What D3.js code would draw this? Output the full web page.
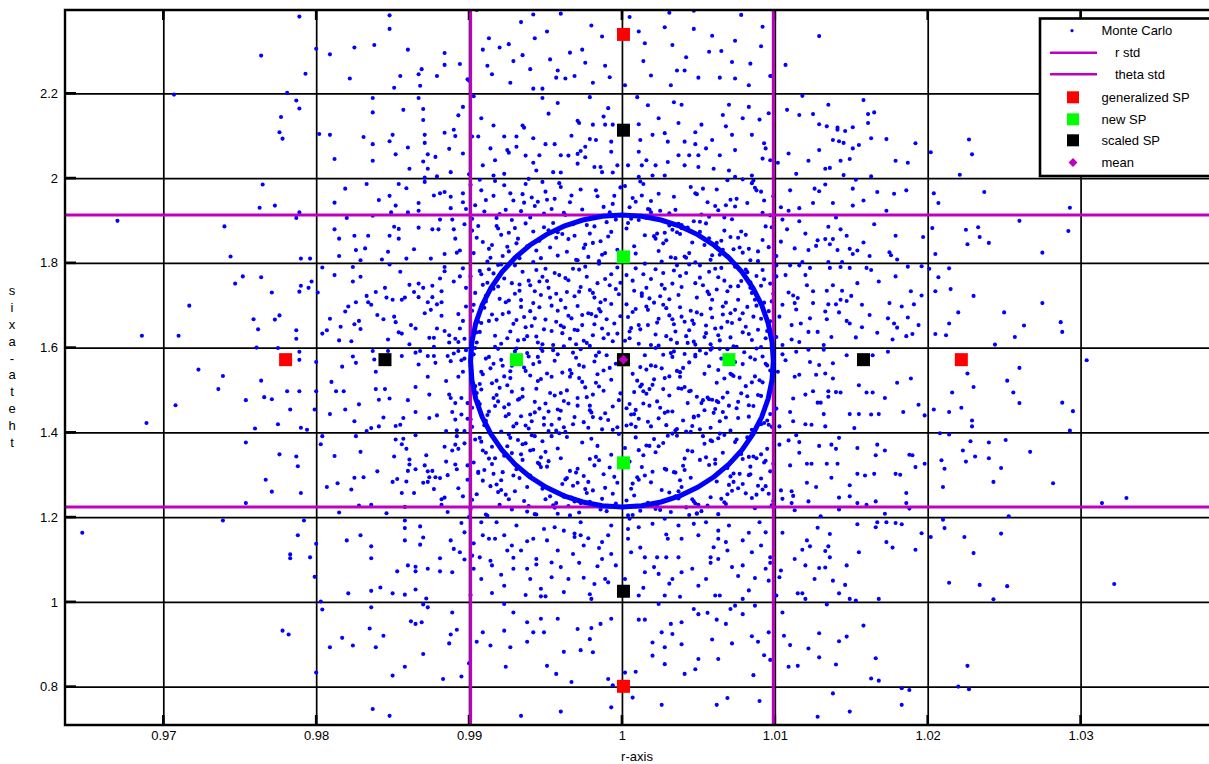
<!DOCTYPE html>
<html>
<head>
<meta charset="utf-8">
<script src="https://cdn.jsdelivr.net/npm/d3@7"></script>
<style>
  body { margin: 0; background: #fff; }
  svg { display: block; }
  text { font-family: "Liberation Sans", Arial, Helvetica, sans-serif; fill: #000; }
</style>
</head>
<body>
<svg id="chart" width="1209" height="764"></svg>
<script>
// ---- axis settings ----
const rTicks = [0.97, 0.98, 0.99, 1, 1.01, 1.02, 1.03];
const thetaTicks = [0.8, 1, 1.2, 1.4, 1.6, 1.8, 2, 2.2];
const rDomain = [0.96357, 1.0384];
const thetaDomain = [0.7094, 2.3966];
const xLabel = "r-axis";
const yLabel = "theta-axis";

// ---- statistics ----
const meanPoint = [1.0001, 1.5715];
const rStd = [0.9901, 1.0099];
const thetaStd = [1.2240, 1.9127];

// ---- sigma points ----
const generalizedSP = [[1.0001, 2.339], [1.0001, 0.8007], [0.9780, 1.5715], [1.0222, 1.5715], [1.0001, 1.5715]];
const newSP = [[1.0001, 1.814], [1.0001, 1.328], [0.9931, 1.5715], [1.0070, 1.5715], [1.0001, 1.5715]];
const scaledSP = [[1.0001, 2.113], [1.0001, 1.025], [0.9845, 1.5715], [1.0158, 1.5715], [1.0001, 1.5715]];

// ---- legend entries ----
const legendItems = ["Monte Carlo", "r std", "theta std", "generalized SP", "new SP", "scaled SP", "mean"];

// ---- Monte Carlo samples [r, theta] ----
const monteCarlo = [
// r < 0.98
[.9670,1.899],[.9686,1.628],[.9647,1.163],[.9689,1.422],
[.9789,2.381],[.9764,2.289],[.9793,2.246],[.9800,2.305],[.9707,2.197],[.9781,2.201],[.9787,2.183],[.9789,2.164],[.9777,2.144],[.9776,2.108],[.9778,2.093],[.9802,2.104],[.9765,1.985],[.9763,1.930],[.9773,1.935],[.9740,1.886],[.9787,1.906],[.9789,1.919],[.9744,1.815],[.9790,1.810],[.9796,1.810],[.9752,1.768],[.9764,1.766],[.9747,1.751],[.9790,1.746],[.9795,1.741],[.9797,1.756],[.9771,1.730],[.9789,1.732],[.9717,1.699],[.9776,1.676],[.9759,1.667],[.9773,1.666],[.9762,1.643],[.9787,1.641],[.9787,1.621],[.9710,1.628],[.9801,1.730],[.9761,1.600],[.9775,1.599],[.9789,1.590],[.9789,1.571],[.9800,1.566],[.9723,1.548],[.9739,1.533],[.9764,1.522],[.9736,1.502],[.9781,1.497],[.9789,1.497],[.9800,1.497],[.9754,1.476],[.9766,1.483],[.9771,1.478],[.9708,1.464],[.9783,1.454],[.9799,1.454],[.9775,1.419],[.9760,1.409],[.9790,1.411],[.9794,1.406],[.9754,1.376],[.9776,1.348],[.9787,1.343],[.9788,1.320],[.9767,1.288],[.9771,1.260],[.9790,1.257],[.9754,1.233],[.9739,1.192],[.9792,1.192],[.9788,1.157],[.9783,1.112],[.9783,1.103],[.9796,1.105],[.9799,1.059],[.9800,1.137],[.9778,0.932],[.9782,0.923],[.9800,0.833],
// 0.98 - 0.99
[.9848,2.384],[.9848,2.352],[.9809,2.292],[.9825,2.308],[.9838,2.314],[.9860,2.303],[.9884,2.295],[.9884,2.267],[.9894,2.269],[.9822,2.235],[.9855,2.241],[.9867,2.245],[.9869,2.257],[.9879,2.241],[.9868,2.218],[.9851,2.213],[.9900,2.230],
[.9837,2.189],[.9867,2.189],[.9870,2.163],[.9857,2.161],[.9896,2.168],[.9893,2.148],[.9870,2.137],[.9837,2.155],[.9809,2.102],[.9831,2.097],[.9850,2.102],[.9871,2.102],[.9884,2.107],[.9890,2.114],[.9891,2.099],[.9837,2.080],[.9871,2.083],[.9860,2.072],[.9873,2.056],[.9878,2.050],[.9887,2.069],[.9896,2.058],[.9837,2.041],[.9848,2.087],[.9870,2.039],[.9873,2.022],[.9861,2.022],[.9871,2.001],[.9879,2.004],[.9888,2.014],[.9852,2.056],[.9812,2.045],[.9900,2.009],[.9871,1.991],
[.9819,1.975],[.9833,1.986],[.9854,1.986],[.9859,1.976],[.9877,1.959],[.9881,1.964],[.9884,1.967],[.9888,1.956],[.9896,1.964],[.9848,1.958],[.9841,1.948],[.9812,1.942],[.9852,1.935],[.9867,1.941],[.9888,1.929],[.9896,1.943],[.9867,1.923],[.9860,1.919],[.9849,1.919],[.9881,1.902],[.9889,1.902],[.9897,1.891],[.9851,1.885],[.9854,1.880],[.9867,1.883],[.9876,1.879],[.9880,1.879],[.9890,1.879],[.9812,1.879],[.9825,1.864],[.9834,1.864],[.9848,1.864],[.9854,1.857],[.9891,1.857],[.9815,1.857],[.9826,1.830],[.9832,1.834],[.9847,1.826],[.9864,1.832],[.9892,1.824],[.9894,1.829],[.9884,1.821],[.9859,1.810],[.9875,1.810],[.9843,1.808],[.9829,1.806],[.9815,1.816],[.9837,1.911],[.9820,1.906],[.9898,1.927],[.9901,1.984],
[.9824,1.790],[.9848,1.796],[.9884,1.790],[.9884,1.780],[.9896,1.787],[.9804,1.789],[.9812,1.771],[.9824,1.756],[.9829,1.767],[.9855,1.779],[.9881,1.763],[.9890,1.756],[.9894,1.768],[.9867,1.751],[.9870,1.741],[.9876,1.746],[.9882,1.733],[.9861,1.748],[.9845,1.741],[.9898,1.741],[.9839,1.731],[.9826,1.707],[.9834,1.707],[.9836,1.701],[.9846,1.718],[.9850,1.713],[.9856,1.713],[.9858,1.718],[.9864,1.731],[.9867,1.719],[.9873,1.707],[.9879,1.702],[.9882,1.707],[.9876,1.719],[.9833,1.722],[.9821,1.697],[.9819,1.685],[.9840,1.677],[.9851,1.673],[.9871,1.681],[.9875,1.689],[.9882,1.675],[.9893,1.679],[.9896,1.663],[.9898,1.697],[.9828,1.663],[.9825,1.655],[.9844,1.667],[.9852,1.660],[.9862,1.653],[.9865,1.645],[.9879,1.645],[.9884,1.639],[.9894,1.645],[.9809,1.668],[.9807,1.641],[.9804,1.633],[.9816,1.649],[.9829,1.644],[.9854,1.636],[.9856,1.633],[.9874,1.623],[.9877,1.623],[.9887,1.629],[.9891,1.621],[.9887,1.612],[.9893,1.613],[.9897,1.621],[.9815,1.617],[.9823,1.615],[.9847,1.619],[.9877,1.602],[.9861,1.608],
[.9824,1.579],[.9837,1.592],[.9847,1.592],[.9856,1.580],[.9865,1.588],[.9868,1.592],[.9873,1.580],[.9877,1.580],[.9886,1.580],[.9890,1.586],[.9893,1.592],[.9898,1.594],[.9888,1.568],[.9878,1.564],[.9867,1.560],[.9838,1.572],[.9826,1.564],[.9817,1.555],[.9895,1.570],[.9897,1.574],[.9839,1.543],[.9873,1.531],[.9885,1.521],[.9893,1.531],[.9896,1.543],[.9810,1.519],[.9813,1.497],[.9818,1.497],[.9839,1.502],[.9845,1.502],[.9865,1.507],[.9874,1.489],[.9887,1.489],[.9888,1.481],[.9891,1.469],[.9899,1.469],[.9895,1.481],[.9841,1.477],[.9848,1.480],[.9860,1.476],[.9865,1.448],[.9874,1.434],[.9879,1.440],[.9889,1.448],[.9891,1.430],[.9895,1.442],[.9899,1.432],[.9809,1.443],[.9819,1.454],[.9825,1.426],[.9828,1.466],[.9844,1.435],[.9857,1.434],[.9855,1.418],[.9852,1.415],[.9836,1.410],[.9833,1.403],[.9841,1.414],[.9885,1.403],[.9892,1.405],[.9897,1.403],
[.9804,1.391],[.9826,1.391],[.9852,1.383],[.9856,1.372],[.9859,1.361],[.9857,1.385],[.9865,1.393],[.9892,1.391],[.9891,1.371],[.9897,1.374],[.9884,1.366],[.9893,1.361],[.9889,1.357],[.9812,1.344],[.9829,1.354],[.9851,1.343],[.9861,1.336],[.9872,1.346],[.9885,1.331],[.9891,1.324],[.9861,1.324],[.9871,1.322],[.9876,1.309],[.9873,1.308],[.9865,1.313],[.9860,1.309],[.9892,1.313],[.9899,1.322],[.9874,1.294],[.9878,1.294],[.9886,1.299],[.9881,1.292],[.9825,1.293],[.9831,1.294],[.9850,1.283],[.9853,1.290],[.9859,1.284],[.9870,1.281],[.9873,1.283],[.9877,1.266],[.9899,1.288],[.9893,1.268],[.9896,1.249],[.9884,1.246],[.9882,1.242],[.9856,1.257],[.9864,1.257],[.9823,1.265],[.9807,1.271],[.9814,1.280],[.9840,1.308],[.9836,1.229],[.9846,1.209],[.9886,1.212],[.9882,1.229],[.9858,1.224],[.9828,1.227],[.9815,1.211],[.9803,1.372],
[.9858,1.192],[.9895,1.186],[.9868,1.178],[.9858,1.174],[.9897,1.164],[.9829,1.157],[.9870,1.152],[.9858,1.145],[.9868,1.135],[.9820,1.145],[.9888,1.145],[.9836,1.131],[.9890,1.125],[.9894,1.117],[.9836,1.103],[.9881,1.103],[.9897,1.100],[.9860,1.086],[.9865,1.083],[.9865,1.072],[.9873,1.078],[.9853,1.072],[.9881,1.072],[.9889,1.070],[.9842,1.034],[.9836,1.026],[.9821,1.020],[.9850,1.020],[.9858,1.017],[.9865,1.029],[.9872,1.008],[.9901,1.016],[.9900,1.200],
[.9803,1.001],[.9804,0.982],[.9836,0.987],[.9870,0.994],[.9873,0.987],[.9889,0.975],[.9862,0.954],[.9865,0.948],[.9869,0.952],[.9892,0.934],[.9888,0.923],[.9835,0.937],[.9844,0.920],[.9817,0.915],[.9824,0.897],[.9839,0.893],[.9809,0.893],[.9887,0.902],[.9870,0.877],[.9858,0.847],[.9850,0.826],[.9883,0.818],[.9895,0.824],[.9900,0.855],[.9837,0.747],[.9848,0.731],
// 0.99 - 1.01, theta above 2.0
[.9905,2.397],[.9942,2.386],[.9951,2.346],[.9943,2.330],[.9913,2.330],[.9920,2.308],[.9926,2.316],[.9974,2.303],[.9909,2.303],[.9929,2.276],[.9953,2.280],[.9966,2.296],[.9976,2.272],[.9963,2.235],[.9969,2.241],[.9927,2.225],[.9942,2.211],[.9948,2.211],[.9958,2.254],[.9957,2.237],[.9981,2.225],[.9992,2.238],[.9987,2.334],[.9989,2.265],[.9940,2.257],[.9912,2.265],[.9899,2.233],[.9934,2.368],[.9960,2.388],[.9915,2.245],[.9935,2.290],[.9980,2.360],
[1.0015,2.318],[1.0033,2.314],[1.0047,2.352],[1.0047,2.395],[1.0031,2.390],[1.0074,2.324],[1.0091,2.311],[1.0092,2.357],[1.0057,2.298],[1.0072,2.274],[1.0084,2.270],[1.0098,2.241],[1.0083,2.219],[1.0074,2.235],[1.0064,2.237],[1.0041,2.254],[1.0036,2.254],[1.0032,2.219],[1.0019,2.242],[1.0014,2.276],[1.0002,2.219],[1.0050,2.237],[1.0011,2.346],[1.0059,2.336],[1.0028,2.356],[1.0005,2.380],[1.0078,2.385],[1.0042,2.285],[1.0065,2.300],
[.9903,2.193],[.9948,2.189],[.9952,2.152],[.9979,2.191],[.9971,2.135],[.9972,2.130],[.9958,2.177],[.9908,2.141],[.9916,2.124],[.9935,2.124],[.9936,2.119],[.9923,2.098],[.9931,2.098],[.9925,2.066],[.9926,2.060],[.9937,2.053],[.9946,2.054],[.9956,2.080],[.9960,2.054],[.9965,2.053],[.9971,2.057],[.9973,2.064],[.9976,2.049],[.9981,2.126],[.9989,2.126],[.9994,2.126],[.9988,2.145],[.9991,2.165],[.9979,2.092],[.9983,2.090],[.9993,2.086],[.9997,2.030],[.9942,2.094],[.9931,2.074],[.9914,2.070],[.9906,2.098],[.9902,2.098],[.9917,2.042],[.9942,2.036],[.9955,2.014],[.9960,2.013],[.9982,2.026],[.9986,2.026],[.9987,2.014],[.9994,2.013],[.9971,2.034],[.9967,2.100],[.9950,2.080],[.9909,2.030],[.9923,2.010],[.9916,2.006],[.9944,2.018],[.9976,2.074],[.9993,2.062],
[1.0010,2.191],[1.0017,2.172],[1.0034,2.179],[1.0039,2.173],[1.0070,2.173],[1.0083,2.168],[1.0096,2.153],[1.0090,2.138],[1.0068,2.122],[1.0048,2.108],[1.0052,2.126],[1.0037,2.130],[1.0028,2.106],[1.0020,2.102],[1.0011,2.127],[1.0012,2.090],[1.0030,2.086],[1.0041,2.086],[1.0048,2.080],[1.0055,2.070],[1.0072,2.102],[1.0085,2.102],[1.0093,2.082],[1.0074,2.066],[1.0064,2.054],[1.0050,2.054],[1.0044,2.054],[1.0037,2.054],[1.0011,2.062],[1.0016,2.042],[1.0004,2.030],[1.0013,2.030],[1.0022,2.030],[1.0030,2.038],[1.0041,2.030],[1.0050,2.026],[1.0060,2.022],[1.0070,2.018],[1.0092,2.046],[1.0097,2.042],[1.0094,2.070],[1.0085,2.006],[1.0074,2.003],[1.0028,2.006],[1.0020,2.006],[1.0011,2.003],[1.0059,2.090],[1.0079,2.141],[1.0066,2.149],[1.0024,2.141],
// 0.99 - 1.01, theta 1.8 - 2.0
[.9971,1.806],[.9915,1.842],[.9948,1.991],[.9926,1.871],[.9989,1.823],[.9904,1.936],[.9957,1.859],[.9933,1.811],[.9996,1.902],[.9941,1.954],[.9918,1.887],[.9983,1.971],[.9962,1.918],[.9909,1.849],[.9937,1.893],[.9975,1.835],[.9929,1.947],[.9952,1.877],[.9991,1.862],[.9912,1.803],[.9966,1.943],[.9944,1.829],[.9980,1.908],[.9923,1.983],[.9958,1.817],[.9902,1.876],[.9935,1.962],[.9986,1.851],[.9949,1.884],[.9920,1.915],[.9973,1.973],[.9907,1.996],[.9961,1.868],[.9931,1.846],[.9994,1.939],[.9954,1.927],[.9916,1.958],[.9978,1.814],[.9940,1.907],[.9925,1.838],[.9968,1.891],[.9999,1.978],[.9946,1.852],[.9910,1.921],[.9982,1.886],[.9937,1.986],[.9964,1.826],[.9921,1.866],[.9951,1.949],[.9987,1.819],[.9905,1.859],[.9943,1.934],[.9972,1.899],[.9928,1.901],[.9959,1.988],[.9914,1.812],[.9993,1.873],[.9934,1.922],[.9976,1.843],[.9950,1.968],[.9919,1.881],[.9965,1.856],[.9902,1.904],[.9988,1.932],[.9942,1.874],[.9927,1.964],[.9970,1.807],[.9955,1.894],[.9913,1.833],[.9984,1.957],[.9938,1.839],[.9963,1.913],[.9924,1.925],[.9997,1.831],[.9947,1.811],[.9908,1.971],[.9979,1.869],[.9932,1.857],[.9956,1.951],[.9917,1.993],[.9990,1.896],[.9945,1.944],[.9969,1.864],[.9922,1.816],[.9960,1.979],[.9906,1.887],[.9985,1.804],[.9936,1.942],[.9953,1.836],[.9930,1.882],[.9974,1.926],[.9911,1.948],[.9995,1.958],[.9942,1.802],[.9967,1.959],[.9926,1.827],[.9981,1.847],[.9949,1.916],[.9903,1.823],[.9958,1.872],[.9939,1.998],[.9977,1.889],[.9918,1.906],[.9992,1.919],
[1.0058,1.807],[1.0021,1.863],[1.0086,1.994],[1.0033,1.878],[1.0069,1.816],[1.0005,1.931],[1.0092,1.854],[1.0044,1.823],[1.0016,1.906],[1.0075,1.951],[1.0039,1.889],[1.0062,1.973],[1.0097,1.912],[1.0027,1.846],[1.0051,1.897],[1.0083,1.833],[1.0009,1.944],[1.0036,1.872],[1.0071,1.861],[1.0048,1.801],[1.0019,1.946],[1.0089,1.827],[1.0057,1.909],[1.0002,1.981],[1.0041,1.815],[1.0078,1.874],[1.0024,1.963],[1.0065,1.852],[1.0094,1.886],[1.0031,1.917],[1.0053,1.975],[1.0012,1.992],[1.0081,1.866],[1.0046,1.848],[1.0068,1.936],[1.0025,1.923],[1.0099,1.957],[1.0035,1.811],[1.0072,1.903],[1.0008,1.839],[1.0055,1.893],[1.0087,1.977],[1.0029,1.853],[1.0063,1.924],[1.0043,1.883],[1.0014,1.986],[1.0079,1.824],[1.0038,1.868],[1.0093,1.947],[1.0059,1.818],[1.0022,1.857],[1.0074,1.933],[1.0047,1.898],[1.0006,1.904],[1.0085,1.988],[1.0032,1.813],[1.0067,1.876],[1.0017,1.927],[1.0054,1.842],[1.0091,1.968],[1.0039,1.882],[1.0076,1.859],[1.0011,1.901],[1.0061,1.934],[1.0028,1.871],[1.0049,1.962],[1.0084,1.806],[1.0004,1.894],[1.0066,1.831],[1.0034,1.956],[1.0096,1.837],[1.0052,1.914],[1.0018,1.926],[1.0073,1.832],[1.0042,1.812],[1.0088,1.971],[1.0023,1.869],[1.0057,1.858],[1.0007,1.953],[1.0069,1.995],[1.0037,1.892],[1.0082,1.941],[1.0015,1.865],[1.0064,1.819],[1.0045,1.979],[1.0098,1.884],[1.0026,1.803],[1.0056,1.943],[1.0077,1.836],[1.0003,1.881],[1.0035,1.925],[1.0071,1.949],[1.0013,1.959],[1.0089,1.804],[1.0048,1.964],[1.0024,1.828],[1.0062,1.847],[1.0092,1.918],[1.0009,1.822],[1.0051,1.873],[1.0079,1.997],[1.0031,1.888],[1.0067,1.907],[1.0019,1.919],
// 0.99 - 1.01, theta 1.6 - 1.8
[.9934,1.712],[.9962,1.648],[.9908,1.773],[.9985,1.691],[.9917,1.628],[.9951,1.757],[.9979,1.604],[.9926,1.683],[.9996,1.738],[.9943,1.669],[.9903,1.701],[.9968,1.786],[.9932,1.617],[.9989,1.762],[.9957,1.727],[.9919,1.744],[.9974,1.653],[.9948,1.608],[.9906,1.661],[.9991,1.632],[.9935,1.779],[.9963,1.694],[.9921,1.796],[.9982,1.718],[.9954,1.639],[.9911,1.722],[.9977,1.767],[.9940,1.747],[.9999,1.674],[.9929,1.656],[.9966,1.621],[.9905,1.612],[.9987,1.645],[.9946,1.695],[.9915,1.678],[.9972,1.732],[.9959,1.771],[.9933,1.734],[.9993,1.703],[.9923,1.763],[.9950,1.666],[.9980,1.679],[.9909,1.748],[.9969,1.642],[.9938,1.627],[.9997,1.789],[.9917,1.602],[.9960,1.712],[.9944,1.783],[.9975,1.616],[.9902,1.687],[.9984,1.752],[.9927,1.638],[.9955,1.606],[.9936,1.672],[.9971,1.698],[.9912,1.753],[.9990,1.667],[.9947,1.724],[.9924,1.707],[.9965,1.759],[.9981,1.629],[.9907,1.637],[.9952,1.741],[.9930,1.794],[.9994,1.615],[.9918,1.666],[.9978,1.681],[.9941,1.651],[.9961,1.634],[.9904,1.729],[.9986,1.707],[.9934,1.696],[.9956,1.776],[.9920,1.715],[.9973,1.743],[.9945,1.612],[.9998,1.726],[.9913,1.785],[.9967,1.669],[.9939,1.758],[.9983,1.674],[.9925,1.622],[.9958,1.687],[.9910,1.694],[.9992,1.747],[.9949,1.643],[.9976,1.791],[.9931,1.665],[.9964,1.731],[.9916,1.739],[.9988,1.622],[.9942,1.705],[.9970,1.608],[.9928,1.752],[.9953,1.718],[.9901,1.768],[.9995,1.657],[.9937,1.648],[.9979,1.736],[.9922,1.679],[.9962,1.603],[.9948,1.767],[.9985,1.798],[.9908,1.658],[.9974,1.677],[.9989,1.713],[.9944,1.626],[.9916,1.775],[.9957,1.661],[.9972,1.784],[.9933,1.749],[.9997,1.633],[.9926,1.711],[.9965,1.675],[.9905,1.636],[.9950,1.786],[.9982,1.655],[.9940,1.686],[.9913,1.663],[.9993,1.773],[.9969,1.721],[.9921,1.609],[.9946,1.756],[.9977,1.611],[.9930,1.727],[.9960,1.652],[.9986,1.685],[.9911,1.709],[.9954,1.699],[.9936,1.619],[.9999,1.753],[.9919,1.795],[.9971,1.641],[.9943,1.733],[.9907,1.781],[.9981,1.729],[.9963,1.764],
[1.0013,1.722],[1.0047,1.656],[1.0082,1.778],[1.0029,1.693],[1.0064,1.617],[1.0091,1.746],[1.0005,1.638],[1.0038,1.769],[1.0071,1.681],[1.0056,1.732],[1.0019,1.606],[1.0097,1.662],[1.0033,1.751],[1.0076,1.713],[1.0042,1.627],[1.0009,1.787],[1.0088,1.699],[1.0061,1.645],[1.0024,1.668],[1.0051,1.794],[1.0079,1.636],[1.0016,1.741],[1.0094,1.622],[1.0036,1.611],[1.0067,1.758],[1.0003,1.702],[1.0045,1.687],[1.0085,1.729],[1.0027,1.776],[1.0059,1.671],[1.0011,1.653],[1.0073,1.603],[1.0049,1.718],[1.0092,1.783],[1.0022,1.631],[1.0066,1.697],[1.0039,1.743],[1.0081,1.649],[1.0007,1.758],[1.0054,1.625],[1.0031,1.676],[1.0098,1.709],[1.0063,1.766],[1.0017,1.689],[1.0077,1.667],[1.0044,1.796],[1.0089,1.642],[1.0025,1.721],[1.0069,1.733],[1.0002,1.616],[1.0052,1.678],[1.0035,1.638],[1.0084,1.754],[1.0014,1.773],[1.0058,1.608],[1.0096,1.686],[1.0041,1.661],[1.0074,1.791],[1.0021,1.706],[1.0065,1.647],[1.0008,1.734],[1.0087,1.713],[1.0048,1.752],[1.0032,1.619],[1.0079,1.681],[1.0057,1.726],[1.0012,1.643],[1.0093,1.761],[1.0038,1.695],[1.0071,1.624],[1.0026,1.748],[1.0061,1.786],[1.0004,1.672],[1.0083,1.632],[1.0046,1.664],[1.0018,1.716],[1.0068,1.706],[1.0091,1.601],[1.0034,1.782],[1.0055,1.652],[1.0009,1.691],[1.0076,1.745],[1.0043,1.611],[1.0086,1.673],[1.0023,1.659],[1.0062,1.737],[1.0099,1.727],[1.0029,1.627],[1.0051,1.765],[1.0015,1.798],[1.0072,1.658],[1.0037,1.724],[1.0082,1.696],[1.0006,1.646],[1.0058,1.692],[1.0095,1.639],[1.0027,1.701],[1.0047,1.614],[1.0066,1.678],[1.0019,1.762],[1.0088,1.769],[1.0033,1.667],[1.0075,1.602],[1.0053,1.747],[1.0011,1.609],[1.0042,1.776],[1.0085,1.618],[1.0028,1.739],[1.0063,1.629],[1.0007,1.684],[1.0093,1.706],[1.0049,1.683],[1.0017,1.653],[1.0078,1.757],[1.0036,1.794],[1.0059,1.713],[1.0024,1.605],[1.0081,1.784],[1.0044,1.641],[1.0003,1.771],[1.0069,1.661],[1.0097,1.751],[1.0031,1.714],[1.0055,1.634],[1.0013,1.728],[1.0074,1.689],[1.0039,1.673],[1.0091,1.668],[1.0022,1.785],[1.0065,1.788],[1.0048,1.607],[1.0084,1.741],[1.0005,1.622],[1.0057,1.779],[1.0034,1.655],[1.0071,1.744],[1.0016,1.697],
// 0.99 - 1.01, theta 1.4 - 1.6
[.9952,1.403],[.9917,1.462],[.9984,1.537],[.9931,1.421],[.9968,1.588],[.9905,1.493],[.9943,1.447],[.9976,1.506],[.9921,1.571],[.9959,1.432],[.9998,1.476],[.9936,1.553],[.9910,1.417],[.9964,1.499],[.9989,1.445],[.9927,1.528],[.9948,1.592],[.9902,1.458],[.9971,1.463],[.9939,1.409],[.9915,1.516],[.9983,1.581],[.9956,1.487],[.9924,1.438],[.9993,1.524],[.9946,1.566],[.9908,1.543],[.9962,1.412],[.9933,1.479],[.9979,1.452],[.9919,1.597],[.9954,1.531],[.9987,1.407],[.9928,1.496],[.9966,1.547],[.9941,1.426],[.9903,1.584],[.9974,1.519],[.9950,1.468],[.9912,1.441],[.9996,1.562],[.9935,1.502],[.9969,1.436],[.9922,1.557],[.9981,1.489],[.9945,1.578],[.9907,1.514],[.9958,1.454],[.9930,1.591],[.9991,1.429],[.9916,1.481],[.9972,1.559],[.9940,1.534],[.9963,1.401],[.9926,1.466],[.9985,1.508],[.9949,1.418],[.9911,1.574],[.9977,1.483],[.9937,1.545],[.9901,1.431],[.9955,1.594],[.9920,1.505],[.9994,1.461],[.9943,1.472],[.9967,1.539],[.9929,1.414],[.9982,1.567],[.9906,1.472],[.9952,1.449],[.9918,1.522],[.9975,1.424],[.9938,1.587],[.9960,1.493],[.9914,1.551],[.9997,1.412],[.9947,1.526],[.9923,1.459],[.9970,1.576],[.9934,1.438],[.9988,1.498],[.9909,1.537],[.9957,1.404],[.9942,1.561],[.9980,1.447],[.9925,1.511],[.9965,1.468],[.9904,1.599],[.9951,1.539],[.9932,1.477],[.9986,1.433],[.9913,1.449],[.9973,1.596],[.9944,1.503],[.9961,1.541],[.9921,1.402],[.9992,1.552],[.9935,1.484],[.9978,1.411],[.9916,1.562],[.9953,1.493],[.9927,1.544],[.9968,1.419],[.9904,1.509],[.9990,1.582],[.9946,1.456],[.9931,1.598],[.9962,1.474],[.9911,1.427],[.9983,1.517],[.9940,1.442],[.9975,1.555],[.9918,1.488],[.9956,1.569],[.9999,1.492],[.9928,1.557],[.9949,1.434],[.9908,1.501],[.9971,1.481],[.9937,1.416],[.9985,1.589],[.9923,1.532],[.9960,1.451],[.9913,1.578],[.9945,1.521],[.9979,1.463],[.9932,1.564],[.9902,1.413],[.9966,1.531],[.9994,1.406],[.9939,1.579],[.9919,1.473],[.9954,1.418],[.9988,1.546],[.9926,1.443],[.9972,1.528],[.9947,1.598],[.9907,1.467],[.9981,1.436],[.9958,1.584],
[1.0071,1.404],[1.0018,1.463],[1.0054,1.538],[1.0093,1.422],[1.0032,1.587],[1.0008,1.495],[1.0066,1.448],[1.0041,1.507],[1.0087,1.572],[1.0024,1.433],[1.0059,1.477],[1.0012,1.554],[1.0096,1.418],[1.0045,1.498],[1.0028,1.446],[1.0077,1.529],[1.0051,1.593],[1.0003,1.457],[1.0083,1.464],[1.0036,1.408],[1.0062,1.517],[1.0015,1.582],[1.0091,1.486],[1.0047,1.437],[1.0021,1.525],[1.0074,1.566],[1.0038,1.542],[1.0098,1.413],[1.0057,1.478],[1.0009,1.453],[1.0069,1.596],[1.0031,1.532],[1.0085,1.406],[1.0044,1.497],[1.0016,1.548],[1.0064,1.426],[1.0027,1.583],[1.0092,1.518],[1.0052,1.469],[1.0006,1.442],[1.0079,1.561],[1.0039,1.503],[1.0068,1.435],[1.0022,1.556],[1.0089,1.488],[1.0048,1.579],[1.0013,1.513],[1.0061,1.455],[1.0034,1.591],[1.0095,1.428],[1.0056,1.482],[1.0019,1.558],[1.0073,1.533],[1.0042,1.402],[1.0005,1.467],[1.0081,1.509],[1.0029,1.417],[1.0065,1.574],[1.0049,1.484],[1.0097,1.546],[1.0011,1.432],[1.0058,1.595],[1.0037,1.504],[1.0086,1.462],[1.0023,1.473],[1.0071,1.538],[1.0046,1.415],[1.0002,1.568],[1.0063,1.471],[1.0033,1.449],[1.0090,1.523],[1.0017,1.425],[1.0055,1.586],[1.0078,1.492],[1.0040,1.552],[1.0009,1.413],[1.0067,1.527],[1.0025,1.458],[1.0084,1.577],[1.0050,1.439],[1.0014,1.497],[1.0072,1.536],[1.0035,1.405],[1.0094,1.562],[1.0060,1.446],[1.0020,1.512],[1.0043,1.469],[1.0088,1.598],[1.0007,1.538],[1.0053,1.476],[1.0076,1.434],[1.0030,1.449],[1.0064,1.597],[1.0018,1.502],[1.0099,1.542],[1.0045,1.401],[1.0026,1.551],[1.0082,1.485],[1.0058,1.411],[1.0004,1.563],[1.0069,1.494],[1.0036,1.545],[1.0091,1.419],[1.0012,1.508],[1.0048,1.583],[1.0075,1.457],[1.0022,1.599],[1.0062,1.474],[1.0040,1.428],[1.0085,1.518],[1.0008,1.443],[1.0057,1.556],[1.0031,1.487],[1.0073,1.569],[1.0016,1.491],[1.0095,1.558],[1.0047,1.435],[1.0027,1.502],[1.0066,1.482],[1.0003,1.416],[1.0080,1.589],[1.0038,1.531],[1.0054,1.452],[1.0092,1.579],[1.0010,1.522],[1.0070,1.463],[1.0044,1.565],[1.0019,1.414],[1.0087,1.532],[1.0051,1.407],[1.0033,1.578],[1.0076,1.472],[1.0006,1.419],[1.0063,1.547],[1.0097,1.443],[1.0028,1.528],[1.0059,1.599],[1.0014,1.468],[1.0083,1.437],[1.0041,1.585],
// 0.99 - 1.01, theta 1.2 - 1.4
[.9944,1.206],[.9981,1.263],[.9913,1.338],[.9956,1.222],[.9927,1.387],[.9995,1.295],[.9962,1.248],[.9906,1.307],[.9935,1.372],[.9973,1.233],[.9918,1.277],[.9950,1.354],[.9986,1.218],[.9929,1.298],[.9967,1.246],[.9903,1.329],[.9941,1.393],[.9977,1.257],[.9921,1.264],[.9958,1.208],[.9992,1.317],[.9932,1.382],[.9909,1.286],[.9969,1.237],[.9946,1.325],[.9915,1.366],[.9983,1.342],[.9938,1.213],[.9961,1.278],[.9924,1.253],[.9998,1.396],[.9952,1.332],[.9911,1.206],[.9975,1.297],[.9934,1.348],[.9965,1.226],[.9904,1.383],[.9947,1.318],[.9989,1.269],[.9926,1.242],[.9958,1.362],[.9916,1.302],[.9979,1.236],[.9940,1.357],[.9963,1.289],[.9908,1.378],[.9931,1.313],[.9994,1.255],[.9954,1.391],[.9920,1.229],[.9971,1.281],[.9942,1.359],[.9985,1.334],[.9912,1.203],[.9948,1.267],[.9966,1.309],[.9901,1.219],[.9937,1.374],[.9978,1.283],[.9923,1.345],[.9959,1.398],[.9996,1.232],[.9930,1.261],[.9970,1.305],[.9914,1.273],[.9953,1.249],[.9982,1.322],[.9939,1.226],[.9907,1.387],[.9964,1.292],[.9928,1.351],[.9990,1.214],[.9945,1.328],[.9919,1.259],[.9974,1.376],[.9936,1.238],[.9960,1.339],[.9910,1.311],[.9987,1.243],[.9943,1.207],[.9925,1.367],[.9968,1.274],[.9905,1.254],[.9951,1.319],[.9980,1.385],[.9933,1.292],[.9917,1.339],[.9972,1.211],[.9948,1.379],[.9993,1.347],[.9922,1.306],[.9957,1.233],[.9909,1.357],[.9976,1.266],[.9940,1.298],[.9964,1.389],[.9928,1.218],[.9997,1.281],[.9950,1.242],[.9915,1.325],[.9984,1.368],[.9935,1.335],[.9902,1.241],[.9962,1.252],[.9943,1.391],[.9971,1.314],[.9921,1.287],[.9988,1.301],[.9955,1.228],[.9911,1.352],[.9938,1.271],[.9979,1.337],[.9926,1.395],[.9966,1.204],[.9947,1.341],[.9906,1.304],
[1.0063,1.207],[1.0026,1.264],[1.0088,1.339],[1.0042,1.223],[1.0009,1.388],[1.0071,1.296],[1.0035,1.249],[1.0097,1.308],[1.0054,1.373],[1.0017,1.234],[1.0079,1.278],[1.0046,1.355],[1.0022,1.219],[1.0083,1.299],[1.0058,1.247],[1.0005,1.331],[1.0067,1.394],[1.0031,1.258],[1.0092,1.265],[1.0049,1.209],[1.0013,1.318],[1.0075,1.383],[1.0038,1.287],[1.0099,1.238],[1.0061,1.326],[1.0024,1.367],[1.0086,1.343],[1.0052,1.214],[1.0007,1.279],[1.0069,1.254],[1.0033,1.397],[1.0094,1.333],[1.0044,1.205],[1.0015,1.298],[1.0078,1.349],[1.0056,1.227],[1.0021,1.384],[1.0084,1.319],[1.0039,1.271],[1.0065,1.243],[1.0002,1.363],[1.0073,1.303],[1.0047,1.237],[1.0011,1.358],[1.0091,1.291],[1.0059,1.379],[1.0028,1.314],[1.0081,1.256],[1.0036,1.392],[1.0068,1.231],[1.0019,1.282],[1.0095,1.361],[1.0051,1.335],[1.0004,1.204],[1.0076,1.268],[1.0041,1.311],[1.0087,1.221],[1.0027,1.375],[1.0062,1.284],[1.0014,1.346],[1.0098,1.228],[1.0048,1.232],[1.0072,1.262],[1.0034,1.306],[1.0089,1.274],[1.0008,1.251],[1.0057,1.323],[1.0023,1.227],[1.0082,1.388],[1.0045,1.293],[1.0066,1.352],[1.0012,1.215],[1.0093,1.329],[1.0037,1.261],[1.0074,1.377],[1.0003,1.239],[1.0055,1.341],[1.0029,1.312],[1.0085,1.245],[1.0049,1.208],[1.0018,1.368],[1.0070,1.276],[1.0096,1.255],[1.0040,1.321],[1.0063,1.386],[1.0010,1.294],[1.0079,1.337],[1.0032,1.212],[1.0058,1.381],[1.0091,1.348],[1.0020,1.307],[1.0067,1.235],[1.0043,1.357],[1.0006,1.267],[1.0084,1.301],[1.0053,1.391],[1.0025,1.217],[1.0073,1.283],[1.0037,1.244],[1.0099,1.326],[1.0016,1.369],[1.0061,1.336],[1.0046,1.242],[1.0088,1.253],[1.0030,1.392],[1.0069,1.316],[1.0011,1.288],[1.0077,1.302],[1.0050,1.229],[1.0022,1.353],[1.0094,1.273],[1.0041,1.338],[1.0064,1.397],[1.0007,1.205],[1.0083,1.342],[1.0035,1.305],
// 0.99 - 1.01, theta below 1.2
[.9909,1.157],[.9913,1.149],[.9917,1.149],[.9923,1.157],[.9928,1.133],[.9942,1.149],[.9951,1.145],[.9969,1.153],[.9973,1.157],[.9978,1.150],[.9987,1.141],[.9991,1.157],[.9902,1.109],[.9907,1.105],[.9914,1.097],[.9925,1.121],[.9934,1.121],[.9944,1.101],[.9954,1.093],[.9960,1.082],[.9968,1.113],[.9975,1.133],[.9984,1.084],[.9993,1.113],[.9903,1.078],[.9929,1.078],[.9938,1.078],[.9954,1.058],[.9965,1.054],[.9975,1.057],[.9982,1.042],[.9989,1.054],[.9923,1.038],[.9937,1.016],[.9947,1.013],[.9950,1.013],[.9962,1.023],[.9980,1.007],[.9923,0.995],[.9908,1.054],[.9915,1.086],[.9996,1.086],[.9940,1.054],[.9987,1.101],[.9958,1.121],[.9931,1.180],[.9918,1.188],[.9993,1.180],[.9973,1.188],[.9949,1.172],
[.9908,1.188],[.9962,1.168],[.9985,1.127],[.9921,1.064],[.9947,1.031],[.9972,1.092],[.9938,1.143],[.9991,1.046],[.9915,1.021],[.9956,1.176],[.9929,1.104],[.9979,1.018],[.9944,1.088],[.9969,1.161],[.9903,1.138],
[1.0004,1.172],[1.0011,1.176],[1.0020,1.184],[1.0030,1.149],[1.0039,1.149],[1.0050,1.157],[1.0060,1.129],[1.0068,1.141],[1.0079,1.145],[1.0085,1.117],[1.0097,1.105],[1.0006,1.117],[1.0015,1.105],[1.0023,1.105],[1.0029,1.105],[1.0037,1.105],[1.0046,1.078],[1.0058,1.105],[1.0063,1.101],[1.0072,1.082],[1.0079,1.086],[1.0087,1.056],[1.0096,1.050],[1.0015,1.070],[1.0024,1.066],[1.0033,1.054],[1.0039,1.070],[1.0050,1.038],[1.0055,1.054],[1.0061,1.015],[1.0064,1.015],[1.0074,0.991],[1.0079,1.007],[1.0087,0.991],[1.0011,1.015],[1.0024,0.995],[1.0028,1.015],[1.0047,0.983],[1.0056,0.974],[1.0004,1.149],[1.0094,1.164],[1.0090,1.188],[1.0070,1.180],[1.0055,1.188],[1.0037,1.180],[1.0028,1.196],[1.0063,1.149],[1.0083,1.027],[1.0002,1.054],[1.0094,1.078],
[1.0012,1.128],[1.0058,1.092],[1.0083,1.163],[1.0031,1.043],[1.0069,1.121],[1.0021,1.082],[1.0047,1.184],[1.0091,1.133],[1.0014,1.033],[1.0076,1.061],[1.0038,1.012],[1.0063,1.168],[1.0097,1.092],[1.0005,1.196],[1.0029,1.159],
[.9929,0.975],[.9947,0.960],[.9958,0.960],[.9971,0.936],[.9980,0.938],[.9905,0.906],[.9914,0.897],[.9927,0.893],[.9938,0.906],[.9942,0.928],[.9949,0.928],[.9962,0.882],[.9973,0.886],[.9981,0.881],[.9979,0.912],[.9924,0.847],[.9951,0.849],[.9957,0.830],[.9967,0.811],[.9991,0.818],[.9994,0.803],[.9986,0.948],[.9993,0.960],[.9938,0.952],[.9909,0.928],[.9923,0.932],
[1.0011,0.958],[1.0015,0.958],[1.0026,0.928],[1.0032,0.948],[1.0039,0.952],[1.0050,0.971],[1.0062,0.958],[1.0071,0.983],[1.0079,0.971],[1.0033,0.924],[1.0020,0.904],[1.0028,0.893],[1.0039,0.900],[1.0059,0.911],[1.0072,0.902],[1.0085,0.919],[1.0089,0.906],[1.0096,0.928],[1.0093,0.874],[1.0097,0.863],[1.0050,0.865],[1.0063,0.865],[1.0028,0.853],[1.0041,0.830],[1.0048,0.841],[1.0009,0.835],[1.0086,0.827],[1.0002,0.833],[1.0020,0.873],[1.0068,0.948],
[.9934,0.731],[.9960,0.741],[.9993,0.751],[1.0007,0.774],[1.0026,0.757],[1.0062,0.757],[1.0069,0.773],[1.0090,0.766],
// 1.01 - 1.02
[1.0129,2.335],[1.0107,2.267],[1.0097,2.241],
[1.0118,2.194],[1.0135,2.173],[1.0158,2.184],[1.0108,2.161],[1.0116,2.149],[1.0125,2.151],[1.0165,2.155],[1.0161,2.151],[1.0129,2.127],[1.0134,2.122],[1.0141,2.119],[1.0151,2.120],[1.0141,2.114],[1.0161,2.130],[1.0146,2.111],[1.0138,2.090],[1.0142,2.087],[1.0145,2.083],[1.0163,2.094],[1.0173,2.092],[1.0155,2.078],[1.0192,2.082],[1.0109,2.058],[1.0129,2.066],[1.0151,2.070],[1.0122,2.041],[1.0143,2.041],[1.0149,2.045],[1.0179,2.041],[1.0187,2.036],[1.0102,2.036],[1.0114,2.010],[1.0133,2.022],[1.0136,2.024],[1.0145,2.007],[1.0163,2.004],[1.0153,1.996],
[1.0110,1.971],[1.0126,1.975],[1.0129,1.969],[1.0133,1.985],[1.0151,1.975],[1.0167,1.967],[1.0178,1.963],[1.0186,1.971],[1.0104,1.931],[1.0109,1.923],[1.0116,1.929],[1.0125,1.941],[1.0138,1.941],[1.0151,1.935],[1.0158,1.947],[1.0173,1.923],[1.0105,1.902],[1.0116,1.898],[1.0140,1.907],[1.0165,1.891],[1.0135,1.885],[1.0143,1.879],[1.0108,1.879],[1.0120,1.869],[1.0128,1.853],[1.0133,1.856],[1.0138,1.856],[1.0147,1.864],[1.0158,1.848],[1.0104,1.850],[1.0113,1.834],[1.0122,1.830],[1.0127,1.840],[1.0136,1.844],[1.0141,1.830],[1.0149,1.833],[1.0154,1.829],[1.0151,1.821],[1.0176,1.818],[1.0162,1.816],[1.0180,1.808],[1.0101,1.816],[1.0118,1.802],[1.0135,1.802],[1.0144,1.802],[1.0197,1.861],[1.0179,1.864],[1.0175,1.825],
[1.0101,1.794],[1.0107,1.771],[1.0110,1.794],[1.0116,1.794],[1.0123,1.788],[1.0120,1.771],[1.0121,1.747],[1.0136,1.788],[1.0143,1.790],[1.0149,1.788],[1.0160,1.788],[1.0163,1.783],[1.0179,1.768],[1.0187,1.791],[1.0196,1.792],[1.0101,1.768],[1.0109,1.730],[1.0112,1.723],[1.0115,1.717],[1.0125,1.733],[1.0134,1.734],[1.0138,1.747],[1.0144,1.734],[1.0150,1.722],[1.0154,1.752],[1.0168,1.756],[1.0189,1.733],[1.0196,1.723],[1.0105,1.701],[1.0113,1.705],[1.0114,1.690],[1.0125,1.705],[1.0135,1.702],[1.0140,1.702],[1.0143,1.713],[1.0147,1.710],[1.0157,1.701],[1.0175,1.705],[1.0183,1.697],[1.0191,1.702],[1.0103,1.673],[1.0111,1.653],[1.0117,1.657],[1.0123,1.669],[1.0133,1.685],[1.0134,1.667],[1.0142,1.683],[1.0147,1.663],[1.0149,1.657],[1.0157,1.648],[1.0162,1.677],[1.0174,1.669],[1.0178,1.657],[1.0180,1.647],[1.0187,1.671],[1.0194,1.653],[1.0101,1.625],[1.0111,1.619],[1.0116,1.613],[1.0122,1.637],[1.0128,1.637],[1.0137,1.625],[1.0153,1.624],[1.0167,1.635],[1.0177,1.619],[1.0186,1.627],[1.0190,1.632],[1.0105,1.606],[1.0132,1.606],
[1.0105,1.584],[1.0114,1.590],[1.0122,1.595],[1.0132,1.595],[1.0138,1.563],[1.0147,1.582],[1.0164,1.582],[1.0174,1.590],[1.0123,1.566],[1.0129,1.559],[1.0107,1.570],[1.0102,1.543],[1.0113,1.531],[1.0116,1.536],[1.0127,1.536],[1.0133,1.539],[1.0138,1.527],[1.0155,1.511],[1.0140,1.495],[1.0135,1.484],[1.0112,1.480],[1.0128,1.470],[1.0130,1.470],[1.0120,1.489],[1.0125,1.497],[1.0135,1.497],[1.0143,1.494],[1.0160,1.494],[1.0164,1.494],[1.0172,1.481],[1.0180,1.517],[1.0189,1.527],[1.0194,1.465],[1.0184,1.448],[1.0168,1.443],[1.0155,1.443],[1.0149,1.443],[1.0132,1.443],[1.0112,1.426],[1.0103,1.414],[1.0120,1.419],[1.0124,1.418],[1.0133,1.414],[1.0152,1.410],[1.0163,1.442],[1.0198,1.440],[1.0101,1.456],[1.0110,1.448],
[1.0103,1.371],[1.0109,1.381],[1.0114,1.393],[1.0116,1.377],[1.0116,1.352],[1.0129,1.368],[1.0137,1.371],[1.0142,1.387],[1.0140,1.361],[1.0154,1.363],[1.0167,1.371],[1.0172,1.357],[1.0110,1.322],[1.0121,1.326],[1.0124,1.326],[1.0134,1.326],[1.0141,1.326],[1.0137,1.293],[1.0127,1.271],[1.0121,1.281],[1.0149,1.275],[1.0154,1.302],[1.0159,1.298],[1.0165,1.302],[1.0179,1.302],[1.0182,1.300],[1.0166,1.346],[1.0188,1.347],[1.0190,1.346],[1.0198,1.326],[1.0192,1.318],[1.0104,1.263],[1.0111,1.261],[1.0112,1.250],[1.0111,1.233],[1.0122,1.237],[1.0142,1.246],[1.0149,1.249],[1.0154,1.233],[1.0166,1.237],[1.0186,1.257],[1.0186,1.233],[1.0105,1.243],[1.0113,1.216],[1.0130,1.202],[1.0142,1.218],[1.0160,1.229],[1.0172,1.208],[1.0188,1.220],
[1.0154,1.183],[1.0166,1.176],[1.0167,1.188],[1.0173,1.188],[1.0179,1.186],[1.0183,1.183],[1.0128,1.175],[1.0136,1.160],[1.0105,1.163],[1.0121,1.145],[1.0123,1.131],[1.0135,1.131],[1.0118,1.123],[1.0133,1.120],[1.0155,1.117],[1.0173,1.141],[1.0177,1.128],[1.0192,1.123],[1.0196,1.162],[1.0113,1.101],[1.0136,1.105],[1.0120,1.086],[1.0129,1.080],[1.0133,1.081],[1.0147,1.086],[1.0104,1.074],[1.0103,1.058],[1.0138,1.050],[1.0146,1.040],[1.0126,1.054],[1.0115,1.020],[1.0118,1.020],[1.0142,1.020],[1.0120,1.007],[1.0149,1.007],[1.0153,1.003],[1.0168,1.007],[1.0101,1.015],
[1.0134,0.994],[1.0105,0.975],[1.0158,0.944],[1.0129,0.926],[1.0106,0.920],[1.0110,0.898],[1.0122,0.890],[1.0142,0.907],[1.0147,0.918],[1.0129,0.869],[1.0109,0.847],[1.0115,0.849],[1.0140,0.852],[1.0166,0.867],[1.0163,0.819],[1.0168,0.814],[1.0183,0.796],[1.0188,0.792],[1.0138,0.784],[1.0183,0.757],[1.0149,0.741],[1.0128,0.729],
// r > 1.02
[1.0227,2.091],[1.0229,2.056],[1.0202,2.061],[1.0221,2.008],[1.0204,1.964],[1.0207,1.941],[1.0237,1.967],[1.0293,1.930],[1.0203,1.882],[1.0225,1.878],[1.0233,1.884],[1.0234,1.861],[1.0240,1.847],[1.0226,1.844],[1.0260,1.899],[1.0292,1.875],[1.0275,1.824],[1.0205,1.821],[1.0201,1.786],[1.0214,1.787],[1.0207,1.766],[1.0215,1.738],[1.0205,1.733],[1.0230,1.722],[1.0220,1.683],[1.0214,1.657],[1.0205,1.632],[1.0212,1.629],[1.0263,1.652],[1.0257,1.625],[1.0250,1.683],[1.0244,1.607],[1.0275,1.705],[1.0287,1.660],[1.0288,1.637],[1.0260,1.552],[1.0226,1.539],[1.0230,1.507],[1.0252,1.522],[1.0216,1.494],[1.0256,1.494],[1.0260,1.469],[1.0288,1.470],[1.0295,1.450],[1.0204,1.454],[1.0214,1.448],[1.0222,1.458],[1.0229,1.428],[1.0229,1.414],[1.0293,1.404],[1.0208,1.398],[1.0214,1.395],[1.0228,1.379],[1.0240,1.376],[1.0251,1.382],[1.0223,1.357],[1.0231,1.343],[1.0240,1.339],[1.0225,1.331],[1.0267,1.354],[1.0209,1.334],[1.0211,1.314],[1.0248,1.316],[1.0243,1.283],[1.0282,1.280],[1.0210,1.271],[1.0253,1.202],[1.0210,1.194],[1.0211,1.174],[1.0202,1.153],[1.0224,1.153],[1.0248,1.161],[1.0230,1.115],[1.0214,1.045],[1.0234,1.040],[1.0252,1.037],[1.0243,1.006],[1.0226,0.849],[1.0220,0.800],[1.0227,0.794],
[1.0314,1.233],[1.0330,1.245],[1.0322,1.042],[1.0304,1.570]
];

// ---- layout ----
const plot = { left: 65, top: 10, right: 1209, bottom: 725 };
const blue = "#0000ff", magenta = "#c000c0";

const x = d3.scaleLinear().domain(rDomain).range([plot.left, plot.right]);
const y = d3.scaleLinear().domain(thetaDomain).range([plot.bottom, plot.top]);

const svg = d3.select("#chart");
svg.append("rect").attr("width", 1209).attr("height", 764).attr("fill", "#fff");

svg.append("defs").append("clipPath").attr("id", "plot-clip")
  .append("rect")
  .attr("x", plot.left).attr("y", plot.top)
  .attr("width", plot.right - plot.left).attr("height", plot.bottom - plot.top);

// grid + tick labels through d3 axes
const fmt = d3.format("~g");
const xAxis = svg.append("g")
  .attr("transform", `translate(0,${plot.bottom})`)
  .call(d3.axisBottom(x).tickValues(rTicks).tickFormat(fmt)
    .tickSize(-(plot.bottom - plot.top)).tickPadding(6));
const yAxis = svg.append("g")
  .attr("transform", `translate(${plot.left},0)`)
  .call(d3.axisLeft(y).tickValues(thetaTicks).tickFormat(fmt)
    .tickSize(-(plot.right - plot.left + 10)).tickPadding(7));

[xAxis, yAxis].forEach(g => {
  g.select(".domain").remove();
  g.selectAll(".tick line").attr("stroke", "#000").attr("stroke-width", 1.7);
  g.selectAll(".tick text").attr("font-size", 13).attr("fill", "#000")
    .attr("font-family", '"Liberation Sans", Arial, sans-serif');
});

// short inner tick marks along the frame
const tickMarks = svg.append("g").attr("stroke", "#000").attr("stroke-width", 2.6);
tickMarks.selectAll("line.tt").data(rTicks).join("line")
  .attr("x1", d => x(d)).attr("x2", d => x(d)).attr("y1", plot.top).attr("y2", plot.top + 10);
tickMarks.selectAll("line.tb").data(rTicks).join("line")
  .attr("x1", d => x(d)).attr("x2", d => x(d)).attr("y1", plot.bottom).attr("y2", plot.bottom - 10);
tickMarks.selectAll("line.tl").data(thetaTicks).join("line")
  .attr("x1", plot.left).attr("x2", plot.left + 11).attr("y1", d => y(d)).attr("y2", d => y(d));

// data layer
const layer = svg.append("g").attr("clip-path", "url(#plot-clip)");

layer.append("g").selectAll("circle").data(monteCarlo).join("circle")
  .attr("cx", d => x(d[0])).attr("cy", d => y(d[1])).attr("r", 2.05)
  .attr("fill", blue);

// standard deviation lines
layer.append("g").selectAll("line").data(rStd).join("line")
  .attr("x1", d => x(d)).attr("x2", d => x(d))
  .attr("y1", plot.top).attr("y2", plot.bottom)
  .attr("stroke", magenta).attr("stroke-width", 3);
layer.append("g").selectAll("line").data(thetaStd).join("line")
  .attr("x1", plot.left).attr("x2", plot.right)
  .attr("y1", d => y(d)).attr("y2", d => y(d))
  .attr("stroke", magenta).attr("stroke-width", 3);

// sigma markers
function squares(data, color) {
  layer.append("g").selectAll("rect").data(data).join("rect")
    .attr("x", d => x(d[0]) - 6.5).attr("y", d => y(d[1]) - 6.5)
    .attr("width", 13).attr("height", 13).attr("fill", color);
}
squares(generalizedSP, "#ff0000");
squares(newSP, "#00ff00");
squares(scaledSP, "#000000");

const diamond = d3.symbol().type(d3.symbolDiamond2).size(60);
layer.append("path")
  .attr("d", diamond())
  .attr("transform", `translate(${x(meanPoint[0])},${y(meanPoint[1])})`)
  .attr("fill", magenta);

// one-sigma ellipse
const rRad = (rStd[1] - rStd[0]) / 2, tRad = (thetaStd[1] - thetaStd[0]) / 2;
const rMid = (rStd[1] + rStd[0]) / 2, tMid = (thetaStd[1] + thetaStd[0]) / 2;
const ring = d3.range(0, 49).map(i => {
  const a = (i / 48) * 2 * Math.PI;
  return [rMid + rRad * Math.cos(a), tMid + tRad * Math.sin(a)];
});
layer.append("path")
  .datum(ring)
  .attr("d", d3.line().x(d => x(d[0])).y(d => y(d[1])))
  .attr("fill", "none").attr("stroke", blue).attr("stroke-width", 5)
  .attr("stroke-linejoin", "miter");

// frame
svg.append("path")
  .attr("d", `M${plot.right + 5},${plot.top}H${plot.left}V${plot.bottom}H${plot.right + 5}`)
  .attr("fill", "none").attr("stroke", "#000").attr("stroke-width", 2.4);

// axis titles
svg.append("text").attr("x", (plot.left + plot.right) / 2).attr("y", 761)
  .attr("text-anchor", "middle").attr("font-size", 13).text(xLabel);

const yChars = Array.from(yLabel).reverse();
const yMid = (plot.top + plot.bottom) / 2 - 1;
svg.append("g").selectAll("text").data(yChars).join("text")
  .attr("x", 12)
  .attr("y", (d, i) => yMid + (i - (yChars.length - 1) / 2) * 16.9 + 4.5)
  .attr("text-anchor", "middle").attr("font-size", 13)
  .text(d => d);

// legend
const lg = svg.append("g");
lg.append("rect").attr("x", 1040).attr("y", 18.5).attr("width", 200).attr("height", 157.5)
  .attr("fill", "#fff").attr("stroke", "#000").attr("stroke-width", 2.6);
const rowsY = [30.7, 52.7, 74.3, 97.3, 119.3, 140.3, 162.5];

lg.append("circle").attr("cx", 1072).attr("cy", rowsY[0]).attr("r", 1.6).attr("fill", blue);
[1, 2].forEach(i => lg.append("line")
  .attr("x1", 1050).attr("x2", 1097).attr("y1", rowsY[i]).attr("y2", rowsY[i])
  .attr("stroke", magenta).attr("stroke-width", 2.6));
[["#ff0000", 3], ["#00ff00", 4], ["#000000", 5]].forEach(([c, i]) => lg.append("rect")
  .attr("x", 1073 - 6).attr("y", rowsY[i] - 6).attr("width", 12).attr("height", 12).attr("fill", c));
lg.append("path").attr("d", d3.symbol().type(d3.symbolDiamond2).size(50)())
  .attr("transform", `translate(1073,${rowsY[6]})`).attr("fill", magenta);

lg.selectAll("text").data(legendItems).join("text")
  .attr("x", (d, i) => (i === 1 || i === 2) ? 1115 : 1101.5)
  .attr("y", (d, i) => rowsY[i] + 4.6)
  .attr("font-size", 13)
  .text(d => d);
</script>
</body>
</html>
